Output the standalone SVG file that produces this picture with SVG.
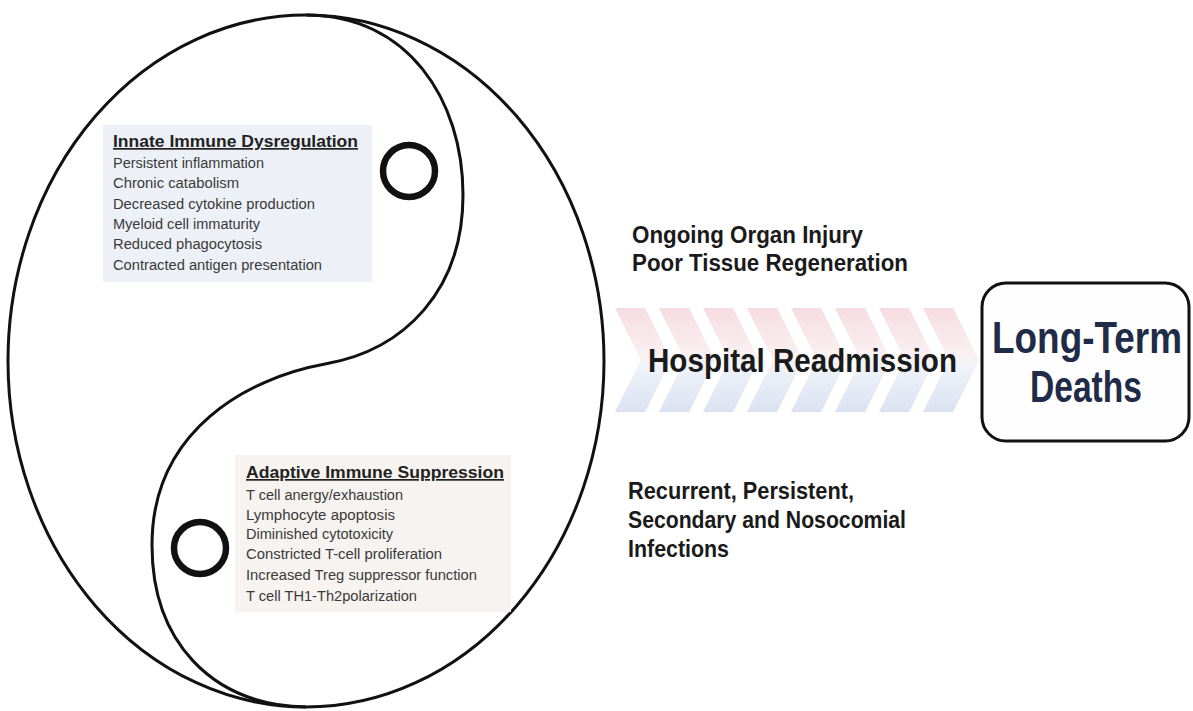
<svg xmlns="http://www.w3.org/2000/svg" width="1193" height="711" viewBox="0 0 1193 711">
  <style>
    .ln { fill: none; stroke: #111; stroke-width: 3; }
    .dot { fill: none; stroke: #111; stroke-width: 6.5; }
    .ttl { font-family: "Liberation Sans", Arial, sans-serif; font-weight: bold; font-size: 17px; fill: #222; text-decoration: underline; }
    .itm { font-family: "Liberation Sans", Arial, sans-serif; font-size: 14px; fill: #3a3a3a; }
    .mid { font-family: "Liberation Sans", Arial, sans-serif; font-weight: bold; font-size: 22px; fill: #1a1a1a; }
    .big { font-family: "Liberation Sans", Arial, sans-serif; font-weight: bold; font-size: 30px; fill: #1a1a1a; }
    .end { font-family: "Liberation Sans", Arial, sans-serif; font-weight: bold; font-size: 37px; fill: #1f2b47; }
  </style>
  <defs>
    <linearGradient id="chevFill" gradientUnits="userSpaceOnUse" x1="0" y1="308" x2="0" y2="412">
      <stop offset="0" stop-color="#f5dde1"/>
      <stop offset="0.45" stop-color="#faf0f2"/>
      <stop offset="0.55" stop-color="#f0f3f9"/>
      <stop offset="1" stop-color="#dbe2f1"/>
    </linearGradient>
    <polygon id="chev" points="0,308 30,308 56,360 30,412 0,412 26,360"/>
  </defs>
  <rect width="1193" height="711" fill="#ffffff"/>

  <g id="connectors">
    <g id="chevron-arrow" fill="url(#chevFill)">
      <use href="#chev" x="615"/>
      <use href="#chev" x="659"/>
      <use href="#chev" x="703"/>
      <use href="#chev" x="747"/>
      <use href="#chev" x="791"/>
      <use href="#chev" x="835"/>
      <use href="#chev" x="879"/>
      <use href="#chev" x="923"/>
    </g>
  </g>

  <g id="yin-yang">
    <ellipse class="ln" cx="306" cy="361" rx="298" ry="346"/>
    <path class="ln" d="M306,15 C408,15 463,100 463,195 C463,290 405,350 325,364 C248,378 152,430 152,545 C152,640 210,705 306,707"/>
    <circle class="dot" cx="409" cy="171" r="26"/>
    <circle class="dot" cx="200" cy="548" r="26"/>
  </g>

  <g id="innate">
    <rect x="103" y="125" width="269" height="157" fill="#edf1f7"/>
    <text class="ttl" x="113" y="147" textLength="245" lengthAdjust="spacingAndGlyphs">Innate Immune Dysregulation</text>
    <text class="itm" x="113" y="168" textLength="151" lengthAdjust="spacingAndGlyphs">Persistent inflammation</text>
    <text class="itm" x="113" y="188" textLength="126" lengthAdjust="spacingAndGlyphs">Chronic catabolism</text>
    <text class="itm" x="113" y="209" textLength="202" lengthAdjust="spacingAndGlyphs">Decreased cytokine production</text>
    <text class="itm" x="113" y="229" textLength="147" lengthAdjust="spacingAndGlyphs">Myeloid cell immaturity</text>
    <text class="itm" x="113" y="249" textLength="149" lengthAdjust="spacingAndGlyphs">Reduced phagocytosis</text>
    <text class="itm" x="113" y="270" textLength="209" lengthAdjust="spacingAndGlyphs">Contracted antigen presentation</text>
  </g>

  <g id="adaptive">
    <rect x="235" y="455" width="276" height="157" fill="#f6f3f0"/>
    <text class="ttl" x="246" y="478" textLength="258" lengthAdjust="spacingAndGlyphs">Adaptive Immune Suppression</text>
    <text class="itm" x="246" y="500" textLength="157" lengthAdjust="spacingAndGlyphs">T cell anergy/exhaustion</text>
    <text class="itm" x="246" y="520" textLength="149" lengthAdjust="spacingAndGlyphs">Lymphocyte  apoptosis</text>
    <text class="itm" x="246" y="539" textLength="147" lengthAdjust="spacingAndGlyphs">Diminished cytotoxicity</text>
    <text class="itm" x="246" y="559" textLength="196" lengthAdjust="spacingAndGlyphs">Constricted T-cell proliferation</text>
    <text class="itm" x="246" y="580" textLength="231" lengthAdjust="spacingAndGlyphs">Increased Treg suppressor function</text>
    <text class="itm" x="246" y="601" textLength="171" lengthAdjust="spacingAndGlyphs">T cell TH1-Th2polarization</text>
  </g>

  <g id="organ-injury">
    <text class="mid" transform="translate(632,243) scale(1,1.1)" textLength="231" lengthAdjust="spacingAndGlyphs">Ongoing Organ Injury</text>
    <text class="mid" transform="translate(632,271) scale(1,1.1)" textLength="276" lengthAdjust="spacingAndGlyphs">Poor Tissue Regeneration</text>
  </g>

  <g id="readmission">
    <text class="big" transform="translate(648,372) scale(1,1.1)" textLength="309" lengthAdjust="spacingAndGlyphs">Hospital Readmission</text>
  </g>

  <g id="infections">
    <text class="mid" transform="translate(628,499) scale(1,1.1)" textLength="226" lengthAdjust="spacingAndGlyphs">Recurrent, Persistent,</text>
    <text class="mid" transform="translate(628,528) scale(1,1.1)" textLength="278" lengthAdjust="spacingAndGlyphs">Secondary and Nosocomial</text>
    <text class="mid" transform="translate(628,557) scale(1,1.1)" textLength="101" lengthAdjust="spacingAndGlyphs">Infections</text>
  </g>

  <g id="long-term-deaths">
    <rect x="982" y="283" width="207" height="158" rx="24" ry="24" fill="#fefefe" stroke="#111" stroke-width="3"/>
    <text class="end" transform="translate(1087,353) scale(1,1.2)" text-anchor="middle" textLength="190" lengthAdjust="spacingAndGlyphs">Long-Term</text>
    <text class="end" transform="translate(1086,402) scale(1,1.2)" text-anchor="middle" textLength="112" lengthAdjust="spacingAndGlyphs">Deaths</text>
  </g>
</svg>
